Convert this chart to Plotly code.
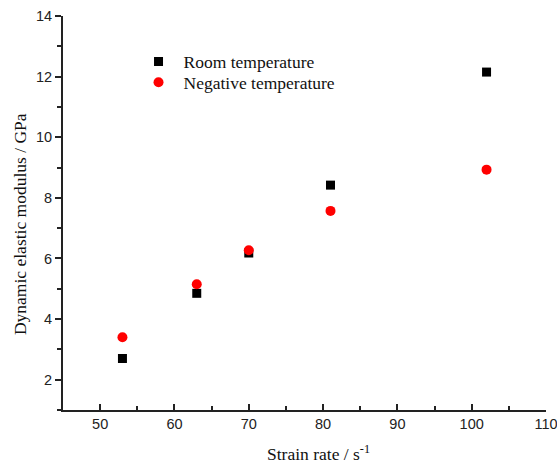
import plotly.graph_objects as go

strain_rate = [53, 63, 70, 81, 102]
room_temp = [2.70, 4.85, 6.18, 8.42, 12.15]
negative_temp = [3.40, 5.15, 6.27, 7.57, 8.93]

x_title = "Strain rate / s<sup>-1</sup>"
y_title = "Dynamic elastic modulus / GPa"

SERIF = "Liberation Serif, Times New Roman, serif"
SANS = "Liberation Sans, Arial, sans-serif"

fig = go.Figure()
fig.add_trace(go.Scatter(x=strain_rate, y=room_temp, mode="markers", name="Room temperature",
                         marker=dict(symbol="square", size=9, color="black"), legend="legend"))
fig.add_trace(go.Scatter(x=strain_rate, y=negative_temp, mode="markers", name="Negative temperature",
                         marker=dict(symbol="circle", size=10, color="red"), legend="legend2"))

axis_common = dict(showline=True, linecolor="#222", linewidth=2, showgrid=False, zeroline=False,
                   tickfont=dict(family=SANS, size=14.5, color="#222"),
                   tickcolor="#222", tickwidth=2, ticklen=6, ticklabeloverflow="allow",
                   automargin=False)

fig.update_xaxes(range=[45, 110], tick0=50, dtick=10, ticks="inside",
                 minor=dict(ticks="inside", dtick=5, tick0=50, ticklen=4, tickwidth=2, tickcolor="#222"),
                 **axis_common)
fig.update_yaxes(range=[1, 14], tick0=2, dtick=2, ticks="outside",
                 minor=dict(ticks="outside", dtick=1, tick0=1, ticklen=4, tickwidth=2, tickcolor="#222"),
                 **axis_common)

leg_common = dict(xanchor="left", yanchor="top", bgcolor="rgba(0,0,0,0)",
                   font=dict(family=SERIF, size=17.5, color="#111"), itemwidth=40)

fig.update_layout(
    width=557, height=466,
    margin=dict(l=63, r=11, t=16, b=56, autoexpand=False),
    paper_bgcolor="white", plot_bgcolor="white",
    showlegend=True,
    legend=dict(x=0.146, y=0.930, **leg_common),
    legend2=dict(x=0.146, y=0.877, **leg_common),
    annotations=[
        dict(text=x_title, xref="paper", yref="paper", x=0.530, y=-0.142,
             xanchor="center", yanchor="bottom", showarrow=False,
             font=dict(family=SERIF, size=17.5, color="#111")),
        dict(text=y_title, xref="paper", yref="paper", x=0, xshift=-43, y=0.472,
             xanchor="center", yanchor="middle", textangle=-90, showarrow=False,
             font=dict(family=SERIF, size=17.5, color="#111")),
    ],
)

fig.write_html("out.html")
